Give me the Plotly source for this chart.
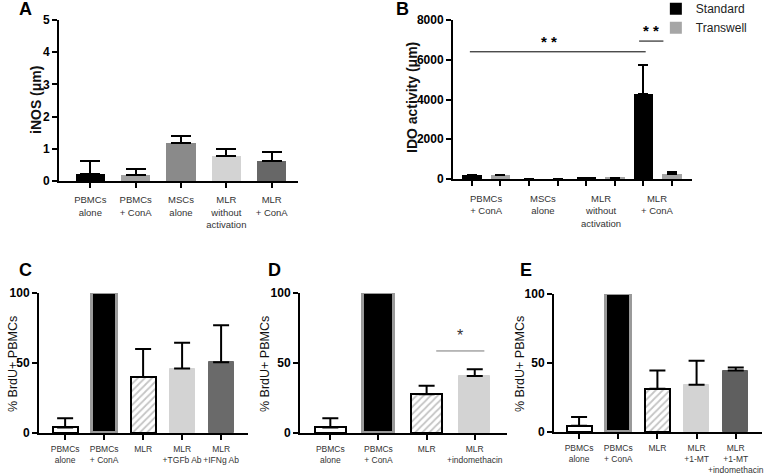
import plotly.graph_objects as go

W, H = 778, 475
FONT = "Liberation Sans"

# ---------------- data ----------------
a_labels = ["PBMCs<br>alone", "PBMCs<br>+ ConA", "MSCs<br>alone", "MLR<br>without<br>activation", "MLR<br>+ ConA"]
a_values = [0.21, 0.18, 1.18, 0.77, 0.63]
a_err = [0.42, 0.19, 0.22, 0.23, 0.26]
a_colors = ["#000000", "#a3a3a3", "#8a8a8a", "#d3d3d3", "#676767"]

b_groups = ["PBMCs<br>+ ConA", "MSCs<br>alone", "MLR<br>without<br>activation", "MLR<br>+ ConA"]
b_standard = [190, 0, 70, 4300]
b_standard_err = [0, 0, 0, 1440]
b_transwell = [185, 0, 60, 260]
b_transwell_err = [0, 0, 0, 70]

c_labels = ["PBMCs<br>alone", "PBMCs<br>+ ConA", "MLR", "MLR<br>+TGFb Ab", "MLR<br>+IFNg Ab"]
c_values = [4, 100, 40, 46, 50.5]
c_err = [6.5, 0, 20, 18.5, 26.5]

d_labels = ["PBMCs<br>alone", "PBMCs<br>+ ConA", "MLR", "MLR<br>+indomethacin"]
d_values = [4, 100, 27.6, 40.7]
d_err = [6.5, 0, 6.2, 4.8]

e_labels = ["PBMCs<br>alone", "PBMCs<br>+ ConA", "MLR", "MLR<br>+1-MT", "MLR<br>+1-MT<br>+indomethacin"]
e_values = [4.6, 100, 31.3, 34.2, 44.5]
e_err = [6.2, 0, 13.2, 17.4, 2.2]

# ---------------- layout helpers ----------------
def px_dom_x(x0, x1):
    return [x0 / W, x1 / W]

def px_dom_y(y_top, y_bot):
    return [1 - y_bot / H, 1 - y_top / H]

fig = go.Figure()

def err_dict(arr, cap, thick=2):
    return dict(type="data", symmetric=False, array=arr, arrayminus=[0] * len(arr),
                color="black", thickness=thick, width=cap)

# Panel A
fig.add_trace(go.Bar(
    x=list(range(len(a_values))), y=a_values, width=0.65,
    marker=dict(color=a_colors, line=dict(width=0)),
    error_y=err_dict(a_err, 10), xaxis="x", yaxis="y", showlegend=False))

# Panel B
n = len(b_groups)
fig.add_trace(go.Bar(
    x=[2 * i for i in range(n)], y=b_standard, width=0.68, name="Standard",
    marker=dict(color="#000000", line=dict(width=0)),
    error_y=err_dict(b_standard_err, 5), xaxis="x2", yaxis="y2", showlegend=True))
fig.add_trace(go.Bar(
    x=[2 * i + 1 for i in range(n)], y=b_transwell, width=0.68, name="Transwell",
    marker=dict(color="#a6a6a6", line=dict(width=0)),
    error_y=err_dict(b_transwell_err, 5), xaxis="x2", yaxis="y2", showlegend=True))

# Panels C/D/E styled bars
def brdu_traces(values, errs, xa, ya, extra_colors):
    styles = [
        dict(color="white", line=dict(color="black", width=2)),
        dict(color="black", line=dict(color="#9a9a9a", width=3)),
        dict(color="white", pattern=dict(shape="/", fgcolor="#8a8a8a", bgcolor="white", size=5, solidity=0.35),
             line=dict(color="black", width=2)),
    ]
    for c in extra_colors:
        styles.append(dict(color=c, line=dict(color=c, width=1)))
    for i, v in enumerate(values):
        fig.add_trace(go.Bar(
            x=[i], y=[v], width=0.64, marker=styles[i],
            error_y=err_dict([errs[i]], 8) if errs[i] > 0 else None,
            xaxis=xa, yaxis=ya, showlegend=False))

brdu_traces(c_values, c_err, "x3", "y3", ["#d3d3d3", "#6a6a6a"])
brdu_traces(d_values, d_err, "x4", "y4", ["#d3d3d3"])
brdu_traces(e_values, e_err, "x5", "y5", ["#d3d3d3", "#5f5f5f"])

tickfont_y = dict(family=FONT, size=12, color="black", weight="bold")
base_x = dict(showline=True, linecolor="black", linewidth=2, ticks="outside", ticklen=5,
              tickwidth=2, tickcolor="black", showgrid=False, zeroline=False,
              automargin=False, tickangle=0)
base_y = dict(showline=True, linecolor="black", linewidth=2, ticks="outside", ticklen=5,
              tickwidth=2, tickcolor="black", showgrid=False, zeroline=False, tickfont=tickfont_y,
              automargin=False)

xlab_big = dict(family=FONT, size=9.5, color="#333")
xlab_small = dict(family=FONT, size=8.5, color="#333")

fig.update_layout(
    width=W, height=H, margin=dict(l=0, r=0, t=0, b=0, autoexpand=False),
    paper_bgcolor="white", plot_bgcolor="white",
    barmode="overlay", bargap=0,
    font=dict(family=FONT, color="black"),
    xaxis=dict(base_x, domain=px_dom_x(59, 298), range=[-0.69, 4.58], ticklabelstandoff=4,
               tickvals=list(range(len(a_labels))), ticktext=a_labels, tickfont=xlab_big, anchor="y"),
    yaxis=dict(base_y, domain=px_dom_y(20, 181), range=[0, 5], dtick=1, anchor="x"),
    xaxis2=dict(base_x, domain=px_dom_x(453, 692), range=[-0.66, 7.7],
                tickvals=list(range(2 * n)), ticktext=[""] * (2 * n), anchor="y2"),
    yaxis2=dict(base_y, domain=px_dom_y(20, 179), range=[0, 8000], dtick=2000, anchor="x2"),
    xaxis3=dict(base_x, domain=px_dom_x(39, 248), range=[-0.67, 4.69], ticklabelstandoff=2,
                tickvals=list(range(len(c_labels))), ticktext=c_labels, tickfont=xlab_small, anchor="y3"),
    yaxis3=dict(base_y, domain=px_dom_y(293, 433), range=[0, 100], dtick=50, anchor="x3"),
    xaxis4=dict(base_x, domain=px_dom_x(300, 507), range=[-0.63, 3.67], ticklabelstandoff=2,
                tickvals=list(range(len(d_labels))), ticktext=d_labels, tickfont=xlab_small, anchor="y4"),
    yaxis4=dict(base_y, domain=px_dom_y(293, 433), range=[0, 100], dtick=50, anchor="x4"),
    xaxis5=dict(base_x, domain=px_dom_x(554, 762), range=[-0.64, 4.67], ticklabelstandoff=2,
                tickvals=list(range(len(e_labels))), ticktext=e_labels, tickfont=xlab_small, anchor="y5"),
    yaxis5=dict(base_y, domain=px_dom_y(294, 432), range=[0, 100], dtick=50, anchor="x5"),
    legend=dict(x=0.843, y=1.012, xanchor="left", yanchor="top", bgcolor="rgba(0,0,0,0)",
                font=dict(family=FONT, size=12, color="#222"), tracegroupgap=0, itemwidth=30),
)

ann = []
# group labels for panel B
for i, g in enumerate(b_groups):
    ann.append(dict(x=2 * i + 0.5, y=-0.075, xref="x2", yref="y2 domain", text=g, showarrow=False,
                    xanchor="center", yanchor="top", font=xlab_big))

# panel letters
for letter, x, y in [("A", 26, 9), ("B", 402, 9), ("C", 26, 270), ("D", 274, 270), ("E", 526, 270)]:
    ann.append(dict(x=x / W, y=1 - y / H, xref="paper", yref="paper", text=f"<b>{letter}</b>",
                    xanchor="center", yanchor="middle",
                    showarrow=False, font=dict(family=FONT, size=18, color="black")))

# y titles
for text, x, y, size, bold in [("iNOS (μm)", 36, 100, 14, True), ("IDO activity (μm)", 412, 98, 14, True),
                               ("% BrdU+ PBMCs", 13, 364, 12.5, False), ("% BrdU+ PBMCs", 265, 364, 12.5, False),
                               ("% BrdU+ PBMCs", 520, 364, 12.5, False)]:
    ann.append(dict(x=x / W, y=1 - y / H, xref="paper", yref="paper", text=text, textangle=-90,
                    xanchor="center", yanchor="middle",
                    showarrow=False, font=dict(family=FONT, size=size, color="#111",
                                               weight="bold" if bold else "normal")))

# significance markers
ann.append(dict(x=2.7, y=6900, xref="x2", yref="y2", text="<b>* *</b>", showarrow=False,
                font=dict(family=FONT, size=15, color="black")))
ann.append(dict(x=6.25, y=7450, xref="x2", yref="y2", text="<b>* *</b>", showarrow=False,
                font=dict(family=FONT, size=15, color="black")))
ann.append(dict(x=2.7, y=70, xref="x4", yref="y4", text="*", showarrow=False,
                font=dict(family=FONT, size=16, color="#333")))
fig.update_layout(annotations=ann)

fig.add_shape(type="line", xref="x2", yref="y2", x0=-0.07, x1=6.08, y0=6400, y1=6400,
              line=dict(color="black", width=1))
fig.add_shape(type="line", xref="x2", yref="y2", x0=5.85, x1=6.7, y0=6940, y1=6940,
              line=dict(color="black", width=1))
fig.add_shape(type="line", xref="x4", yref="y4", x0=2.2, x1=3.2, y0=58.6, y1=58.6,
              line=dict(color="#777", width=1))

fig.write_html("out.html", config={"displayModeBar": False},
               post_script="document.body.style.margin='0px';document.body.style.padding='0px';")
